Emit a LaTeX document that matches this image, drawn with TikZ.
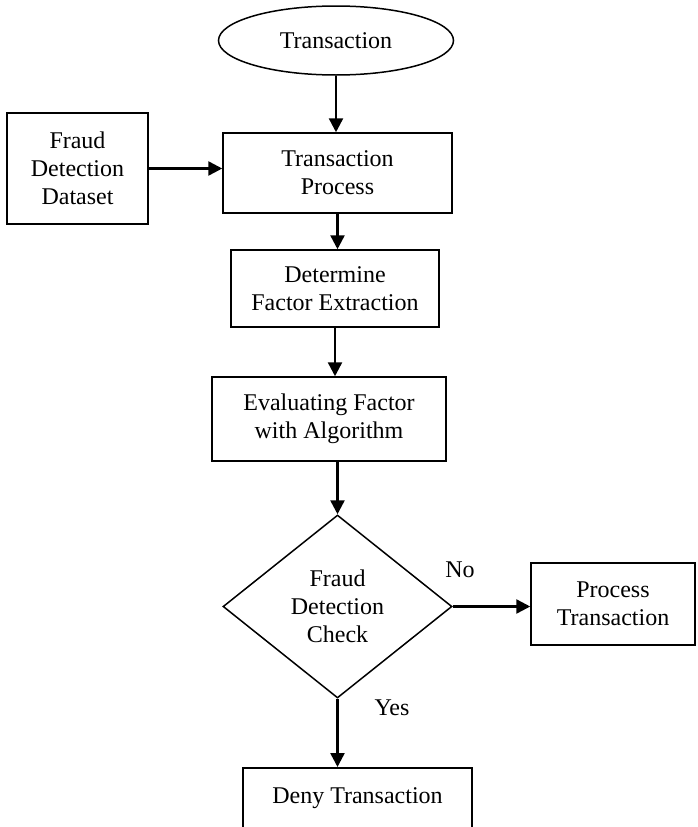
\documentclass[tikz,border=0pt]{standalone}
\usepackage{fontspec}
\setmainfont{Liberation Serif}
\usetikzlibrary{shapes.geometric,arrows.meta}
\begin{document}
\begin{tikzpicture}[x=1pt,y=-1pt,
  every node/.style={font=\fontsize{24}{28}\selectfont, align=center, inner sep=0pt},
  box/.style={draw, line width=1.5pt, rectangle},
  arr/.style={line width=2.5pt, -{Triangle[length=14pt,width=14pt]}},
  lbl/.style={}]
\useasboundingbox (0,0) rectangle (697,827);
\clip (0,0) rectangle (697,827);
\node[draw, line width=1.5pt, ellipse, minimum width=235pt, minimum height=69pt] (ell) at (336,40.5) {Transaction};
\node[box, minimum width=229pt, minimum height=80pt] (tp) at (337.5,173) {Transaction\\Process};
\node[box, minimum width=141pt, minimum height=111pt] (fdd) at (77.5,168.5) {Fraud\\Detection\\Dataset};
\node[box, minimum width=208pt, minimum height=77pt] (dfe) at (335,288.5) {Determine\\Factor Extraction};
\node[box, minimum width=234pt, minimum height=84pt] (efa) at (329,419) {Evaluating Factor\\with Algorithm};
\node[draw, line width=1.5pt, diamond, aspect=1.25, minimum width=229pt, minimum height=183pt] (dia) at (337.5,606.5) {Fraud\\Detection\\Check};
\node[box, minimum width=164pt, minimum height=82pt] (pt) at (613,604) {Process\\Transaction};
\node[box, anchor=north, minimum width=229pt, text height=36pt, text depth=40pt] (deny) at (357.5,767) {Deny Transaction};
\node[lbl] (no) at (460,570) {No};
\node[lbl] (yes) at (392,708) {Yes};
\draw[arr] (ell.south) -- (ell.south |- tp.north);
\draw[arr] (fdd.east) -- (fdd.east -| tp.west);
\draw[arr] (tp.south) -- (tp.south |- dfe.north);
\draw[arr] (dfe.south) -- (dfe.south |- efa.north);
\draw[arr] (dia.north |- efa.south) -- (dia.north);
\draw[arr] (dia.east) -- (dia.east -| pt.west);
\draw[arr] (dia.south) -- (dia.south |- deny.north);
\end{tikzpicture}
\end{document}
